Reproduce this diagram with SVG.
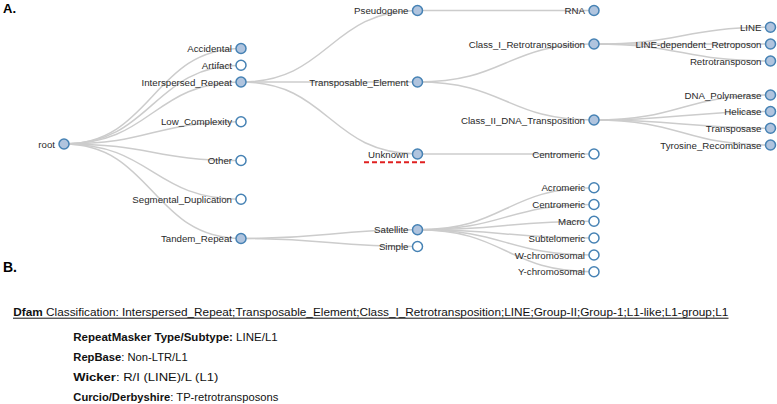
<svg xmlns="http://www.w3.org/2000/svg" width="777" height="404" viewBox="0 0 777 404">
<style>
.lk{fill:none;stroke:#cccccc;stroke-width:1.5}
.n circle{stroke:#4682b4;stroke-width:1.5}
.f circle{fill:#b0c4de}
.e circle{fill:#ffffff}
.n text{font-family:"Liberation Sans",Arial,sans-serif;font-size:9.7px;fill:#2a2a2a;text-anchor:end}
.h{font-family:"Liberation Sans",Arial,sans-serif;font-weight:bold;fill:#000}
.b{font-family:"Liberation Sans",Arial,sans-serif;font-size:10px;fill:#111}
.c{font-family:"Liberation Sans",Arial,sans-serif;font-size:11.2px;fill:#111}
.bb{font-weight:bold}
</style>
<rect width="777" height="404" fill="#fff"/>
<text class="h" x="3" y="13" font-size="13">A.</text>
<text class="h" x="3" y="272" font-size="14">B.</text>
<g id="connectors">
<path class="lk" d="M64,144C152.5,144 152.5,48.5 241,48.5"/>
<path class="lk" d="M64,144C152.5,144 152.5,65.3 241,65.3"/>
<path class="lk" d="M64,144C152.5,144 152.5,82 241,82"/>
<path class="lk" d="M64,144C152.5,144 152.5,121.7 241,121.7"/>
<path class="lk" d="M64,144C152.5,144 152.5,160.5 241,160.5"/>
<path class="lk" d="M64,144C152.5,144 152.5,199.3 241,199.3"/>
<path class="lk" d="M64,144C152.5,144 152.5,238.5 241,238.5"/>
<path class="lk" d="M241,82C329.25,82 329.25,10.5 417.5,10.5"/>
<path class="lk" d="M241,82C329.25,82 329.25,82 417.5,82"/>
<path class="lk" d="M241,82C329.25,82 329.25,154 417.5,154"/>
<path class="lk" d="M241,238.5C329.25,238.5 329.25,229.8 417.5,229.8"/>
<path class="lk" d="M241,238.5C329.25,238.5 329.25,246.5 417.5,246.5"/>
<path class="lk" d="M417.5,10.5C505.75,10.5 505.75,10.5 594,10.5"/>
<path class="lk" d="M417.5,82C505.75,82 505.75,44 594,44"/>
<path class="lk" d="M417.5,82C505.75,82 505.75,120 594,120"/>
<path class="lk" d="M417.5,154C505.75,154 505.75,154 594,154"/>
<path class="lk" d="M417.5,229.8C505.75,229.8 505.75,187.8 594,187.8"/>
<path class="lk" d="M417.5,229.8C505.75,229.8 505.75,204.5 594,204.5"/>
<path class="lk" d="M417.5,229.8C505.75,229.8 505.75,221.2 594,221.2"/>
<path class="lk" d="M417.5,229.8C505.75,229.8 505.75,238 594,238"/>
<path class="lk" d="M417.5,229.8C505.75,229.8 505.75,255 594,255"/>
<path class="lk" d="M417.5,229.8C505.75,229.8 505.75,271.8 594,271.8"/>
<path class="lk" d="M594,44C682.25,44 682.25,27.3 770.5,27.3"/>
<path class="lk" d="M594,44C682.25,44 682.25,44 770.5,44"/>
<path class="lk" d="M594,44C682.25,44 682.25,61 770.5,61"/>
<path class="lk" d="M594,120C682.25,120 682.25,95 770.5,95"/>
<path class="lk" d="M594,120C682.25,120 682.25,111.5 770.5,111.5"/>
<path class="lk" d="M594,120C682.25,120 682.25,128.2 770.5,128.2"/>
<path class="lk" d="M594,120C682.25,120 682.25,145 770.5,145"/>
</g>
<g id="root" class="n f"><circle cx="64" cy="144" r="5"/><text x="55" y="147.5">root</text></g>
<g id="accidental" class="n f"><circle cx="241" cy="48.5" r="5"/><text x="232" y="52">Accidental</text></g>
<g id="artifact" class="n e"><circle cx="241" cy="65.3" r="5"/><text x="232" y="68.8">Artifact</text></g>
<g id="interspersed_repeat" class="n f"><circle cx="241" cy="82" r="5"/><text x="232" y="85.5">Interspersed_Repeat</text></g>
<g id="low_complexity" class="n e"><circle cx="241" cy="121.7" r="5"/><text x="232" y="125.2">Low_Complexity</text></g>
<g id="other" class="n e"><circle cx="241" cy="160.5" r="5"/><text x="232" y="164">Other</text></g>
<g id="segmental_duplication" class="n e"><circle cx="241" cy="199.3" r="5"/><text x="232" y="202.8">Segmental_Duplication</text></g>
<g id="tandem_repeat" class="n f"><circle cx="241" cy="238.5" r="5"/><text x="232" y="242">Tandem_Repeat</text></g>
<g id="pseudogene" class="n f"><circle cx="417.5" cy="10.5" r="5"/><text x="408.5" y="14">Pseudogene</text></g>
<g id="transposable_element" class="n f"><circle cx="417.5" cy="82" r="5"/><text x="408.5" y="85.5">Transposable_Element</text></g>
<g id="unknown" class="n f"><circle cx="417.5" cy="154" r="5"/><text x="408.5" y="157.5">Unknown</text><line x1="364" y1="162.3" x2="427" y2="162.3" stroke="#e02020" stroke-width="2" stroke-dasharray="5,3"/></g>
<g id="satellite" class="n f"><circle cx="417.5" cy="229.8" r="5"/><text x="408.5" y="233.3">Satellite</text></g>
<g id="simple" class="n e"><circle cx="417.5" cy="246.5" r="5"/><text x="408.5" y="250">Simple</text></g>
<g id="rna" class="n f"><circle cx="594" cy="10.5" r="5"/><text x="585" y="14">RNA</text></g>
<g id="class_i" class="n f"><circle cx="594" cy="44" r="5"/><text x="585" y="47.5">Class_I_Retrotransposition</text></g>
<g id="class_ii" class="n f"><circle cx="594" cy="120" r="5"/><text x="585" y="123.5">Class_II_DNA_Transposition</text></g>
<g id="centromeric_u" class="n e"><circle cx="594" cy="154" r="5"/><text x="585" y="157.5">Centromeric</text></g>
<g id="acromeric" class="n e"><circle cx="594" cy="187.8" r="5"/><text x="585" y="191.3">Acromeric</text></g>
<g id="centromeric_s" class="n e"><circle cx="594" cy="204.5" r="5"/><text x="585" y="208">Centromeric</text></g>
<g id="macro" class="n e"><circle cx="594" cy="221.2" r="5"/><text x="585" y="224.7">Macro</text></g>
<g id="subtelomeric" class="n e"><circle cx="594" cy="238" r="5"/><text x="585" y="241.5">Subtelomeric</text></g>
<g id="w_chromosomal" class="n e"><circle cx="594" cy="255" r="5"/><text x="585" y="258.5">W-chromosomal</text></g>
<g id="y_chromosomal" class="n e"><circle cx="594" cy="271.8" r="5"/><text x="585" y="275.3">Y-chromosomal</text></g>
<g id="line" class="n f"><circle cx="770.5" cy="27.3" r="5"/><text x="761.5" y="30.8">LINE</text></g>
<g id="line_dependent" class="n f"><circle cx="770.5" cy="44" r="5"/><text x="761.5" y="47.5">LINE-dependent_Retroposon</text></g>
<g id="retrotransposon" class="n f"><circle cx="770.5" cy="61" r="5"/><text x="761.5" y="64.5">Retrotransposon</text></g>
<g id="dna_polymerase" class="n f"><circle cx="770.5" cy="95" r="5"/><text x="761.5" y="98.5">DNA_Polymerase</text></g>
<g id="helicase" class="n f"><circle cx="770.5" cy="111.5" r="5"/><text x="761.5" y="115">Helicase</text></g>
<g id="transposase" class="n f"><circle cx="770.5" cy="128.2" r="5"/><text x="761.5" y="131.7">Transposase</text></g>
<g id="tyrosine_recombinase" class="n f"><circle cx="770.5" cy="145" r="5"/><text x="761.5" y="148.5">Tyrosine_Recombinase</text></g>
<g id="panel_b">
<text class="b" x="13.3" y="316" textLength="715" lengthAdjust="spacingAndGlyphs"><tspan class="bb">Dfam</tspan> Classification: Interspersed_Repeat;Transposable_Element;Class_I_Retrotransposition;LINE;Group-II;Group-1;L1-like;L1-group;L1</text>
<line x1="13" y1="318.2" x2="728.5" y2="318.2" stroke="#111" stroke-width="1"/>
<text class="c" x="73.3" y="341" textLength="204.4" lengthAdjust="spacingAndGlyphs"><tspan class="bb">RepeatMasker Type/Subtype:</tspan> LINE/L1</text>
<text class="c" x="73.3" y="361" textLength="114.4" lengthAdjust="spacingAndGlyphs"><tspan class="bb">RepBase</tspan>: Non-LTR/L1</text>
<text class="c" x="73.3" y="381" textLength="145" lengthAdjust="spacingAndGlyphs"><tspan class="bb">Wicker</tspan>: R/I (LINE)/L (L1)</text>
<text class="c" x="73.3" y="401" textLength="205" lengthAdjust="spacingAndGlyphs"><tspan class="bb">Curcio/Derbyshire</tspan>: TP-retrotransposons</text>
</g>
</svg>
